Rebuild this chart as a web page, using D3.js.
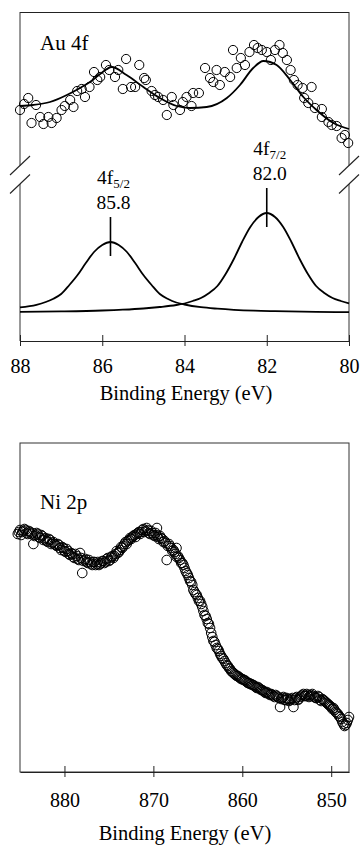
<!DOCTYPE html>
<html>
<head>
<meta charset="utf-8">
<script src="https://cdn.jsdelivr.net/npm/d3@7"></script>
<style>
body { margin: 0; background: #fff; }
text { font-family: "Liberation Serif", "Times New Roman", serif; fill: #000; }
</style>
</head>
<body>
<div id="chart"></div>
<script>
'use strict';

// ---- Au 4f (binding energy eV, intensity a.u.) ----
var auTicks = [88, 86, 84, 82, 80];

var auPoints = [
	[88.00,203],[87.90,209],[87.80,215],[87.61,208],[87.72,190],[87.51,196],[87.43,189],[87.31,196],
	[87.23,190],[87.11,195],[86.99,203],[86.91,207],[86.78,213],[86.70,206],[86.61,222],[86.50,224],
	[86.42,216],[86.31,226],[86.20,241],[86.12,233],[86.05,236],[85.91,248],[85.83,243],[85.69,236],
	[85.61,243],[85.42,254],[85.50,224],[85.30,226],[85.20,226],[85.10,248],[84.98,235],[84.94,233],
	[84.80,222],[84.72,218],[84.64,216],[84.52,213],[84.43,198],[84.31,216],[84.27,208],[84.11,203],
	[84.04,211],[83.95,216],[83.83,207],[83.79,220],[83.65,220],[83.50,245],[83.38,235],[83.30,231],
	[83.22,243],[83.14,228],[83.02,241],[82.89,236],[82.82,263],[82.73,245],[82.63,255],[82.53,248],
	[82.42,261],[82.31,268],[82.22,265],[82.12,263],[82.00,261],[81.90,253],[81.80,263],[81.69,268],
	[81.61,260],[81.51,253],[81.42,243],[81.34,233],[81.25,228],[81.13,225],[81.09,215],[80.91,226],
	[80.99,210],[80.83,205],[80.66,204],[80.66,196],[80.50,191],[80.42,188],[80.30,187],[80.18,175],
	[80.10,178],[80.02,170]
];

// fitted envelope
var auEnvelope = [
	[88.00,207],[87.68,208],[87.27,211],[86.86,218],[86.54,225],[86.30,231],[86.05,239],[85.77,246],
	[85.41,238],[85.00,226],[84.60,215],[84.19,207],[83.87,205],[83.46,206],[82.97,215],[82.65,228],
	[82.33,245],[82.08,252],[81.76,248],[81.43,233],[81.11,216],[80.79,203],[80.38,190],[80.00,184]
];

// fitted components
var auPeak52 = [
	[88.0,5.7],[87.6,8.2],[87.2,14],[87.0,19],[86.8,28],[86.6,38],[86.4,50],[86.2,61],[86.0,68],
	[85.8,71],[85.6,68],[85.4,61],[85.2,50],[85.0,38],[84.8,28],[84.6,19],[84.4,14],[84.2,10.5],
	[84.0,8.5],[83.6,5.8],[83.2,4.3],[82.8,3.2],[82.3,2.3],[81.8,1.8],[80.8,1.1],[80.0,0.8]
];
var auPeak72 = [
	[88.0,1.1],[87.0,1.6],[86.0,2.5],[85.5,3.3],[85.0,4.5],[84.6,6],[84.2,8],[84.0,9.5],[83.8,12],
	[83.6,15],[83.4,20],[83.2,27],[83.0,39],[82.8,54],[82.6,71],[82.4,86],[82.2,96],[82.0,100],
	[81.8,96],[81.6,86],[81.4,71],[81.2,54],[81.0,39],[80.8,27],[80.6,20],[80.4,15],[80.2,12],[80.0,9.5]
];

var auLabels = [
	{ name: "4f", sub: "5/2", be: 85.8, peak: 71 },
	{ name: "4f", sub: "7/2", be: 82.0, peak: 100 }
];

// ---- Ni 2p ----
var niTicks = [880, 870, 860, 850];

var niPoints = [
	[885.25,238],[885.0,242],[884.75,240],[884.5,243],[884.25,239],[884.0,241],[883.75,238],[883.5,228],
	[883.25,237],[883.0,238],[882.75,234],[882.5,236],[882.25,233],[882.0,231],[881.75,233],[881.5,228],
	[881.25,230],[881.0,227],[880.75,228],[880.5,224],[880.25,225],[880.0,221],[879.75,223],[879.5,218],
	[879.25,219],[879.0,215],[878.75,218],[878.5,213],[878.25,219],[878.0,199],[877.75,212],[877.5,210],
	[877.25,212],[877.0,208],[876.75,210],[876.5,207],[876.25,210],[876.0,208],[875.75,211],[875.5,209],
	[875.25,213],[875.0,211],[874.75,215],[874.5,214],[874.25,218],[874.0,219],[873.75,222],[873.5,224],
	[873.25,228],[873.0,228],[872.75,232],[872.5,233],[872.25,236],[872.0,235],[871.75,239],[871.5,238],
	[871.25,242],[871.0,240],[870.75,244],[870.5,239],[870.25,241],[870.0,237],[869.75,239],[869.6,244],
	[869.5,235],[869.25,236],[869.0,233],[868.75,231],[868.5,212],[868.25,228],[868.0,224],[867.75,222],
	[867.5,218],[867.4,224],[867.25,216],[867.0,212],[866.75,209],[866.5,204],[866.25,199],[866.0,194],
	[865.75,190],[865.5,182],[865.25,178],[865.0,174],[864.75,171],[864.5,165],[864.25,157],[864.0,153],
	[863.75,148],[863.5,139],[863.25,131],[863.0,127],[862.75,123],[862.5,118],[862.25,114],[862.0,111],
	[861.75,107],[861.5,104],[861.25,101],[861.0,99],[860.75,97],[860.5,96],[860.25,94],[860.0,93],
	[859.75,92],[859.5,90],[859.25,89],[859.0,88],[858.75,87],[858.5,85],[858.25,85],[858.0,83],
	[857.75,82],[857.5,80],[857.25,80],[857.0,78],[856.75,78],[856.5,76],[856.25,77],[856.0,75],
	[855.75,65],[855.5,74],[855.25,72],[855.0,74],[854.75,71],[854.5,73],[854.25,65],[854.0,74],
	[853.75,72],[853.5,75],[853.25,77],[853.0,76],[852.75,78],[852.5,75],[852.25,77],[852.0,76],
	[851.75,74],[851.5,76],[851.25,72],[851.0,73],[850.75,71],[850.5,69],[850.25,67],[850.0,65],
	[849.75,64],[849.5,60],[849.25,58],[849.0,55],[848.75,50],[848.5,46],[848.25,49],[848.0,55]
];

// second sweep, interleaved energies
var niPointsB = [
	[885.125,240],[884.875,237],[884.625,241],[884.375,242],[884.125,238],[883.875,240],[883.625,239],[883.375,236],
	[883.125,239],[882.875,235],[882.625,237],[882.375,232],[882.125,234],[881.875,230],[881.625,232],[881.375,229],
	[881.125,228],[880.875,226],[880.625,227],[880.375,222],[880.125,224],[879.875,220],[879.625,221],[879.375,217],
	[879.125,218],[878.875,214],[878.625,216],[878.375,212],[878.125,214],[877.875,211],[877.625,213],[877.375,209],
	[877.125,210],[876.875,207],[876.625,210],[876.375,208],[876.125,207],[875.875,209],[875.625,211],[875.375,210],
	[875.125,214],[874.875,212],[874.625,216],[874.375,216],[874.125,221],[873.875,220],[873.625,225],[873.375,226],
	[873.125,230],[872.875,231],[872.625,234],[872.375,235],[872.125,237],[871.875,238],[871.625,240],[871.375,240],
	[871.125,243],[870.875,241],[870.625,242],[870.375,238],[870.125,239],[869.875,236],[869.625,237],[869.375,233],
	[869.125,234],[868.875,230],[868.625,229],[868.375,226],[868.125,226],[867.875,221],[867.625,220],[867.375,215],
	[867.125,214],[866.875,209],[866.625,207],[866.375,201],[866.125,197],[865.875,191],[865.625,187],[865.375,180],
	[865.125,177],[864.875,171],[864.625,168],[864.375,161],[864.125,156],[863.875,149],[863.625,144],[863.375,135],
	[863.125,130],[862.875,124],[862.625,121],[862.375,116],[862.125,113],[861.875,109],[861.625,106],[861.375,103],
	[861.125,100],[860.875,98],[860.625,96],[860.375,95],[860.125,93],[859.875,92],[859.625,91],[859.375,89],
	[859.125,88],[858.875,87],[858.625,86],[858.375,84],[858.125,84],[857.875,82],[857.625,81],[857.375,79],
	[857.125,79],[856.875,77],[856.625,77],[856.375,75],[856.125,76],[855.875,74],[855.625,73],[855.375,75],
	[855.125,72],[854.875,73],[854.625,72],[854.375,74],[854.125,72],[853.875,75],[853.625,73],[853.375,76],
	[853.125,78],[852.875,76],[852.625,77],[852.375,76],[852.125,78],[851.875,75],[851.625,74],[851.375,75],
	[851.125,71],[850.875,72],[850.625,70],[850.375,68],[850.125,66],[849.875,63],[849.625,62],[849.375,59],
	[849.125,56],[848.875,53],[848.625,48],[848.375,47],[848.125,52]
];

var W = 362, H = 846;

var svg = d3.select("#chart").//
append("svg").//
attr("width", W).//
attr("height", H);

var serif = '"Liberation Serif", "Times New Roman", serif';

// ================= Au 4f panel =================
var xAu = d3.scaleLinear().domain([88, 80]).range([20, 349]), //
yAu = d3.scaleLinear().domain([-28, 301]).range([341, 12]);

var gAu = svg.append("g");

// frame: top line + side lines with axis break
var brk1 = 165.5, brk2 = 184;
gAu.append("line").attr("x1", xAu(88)).attr("x2", xAu(80)).attr("y1", 12.5).attr("y2", 12.5).//
attr("stroke", "#222");
[xAu(88), xAu(80)].forEach(function(x) {
	gAu.append("line").attr("x1", x).attr("x2", x).attr("y1", 12).attr("y2", brk1).attr("stroke", "#333");
	gAu.append("line").attr("x1", x).attr("x2", x).attr("y1", brk2).attr("y2", 341).attr("stroke", "#333");
	[brk1, brk2].forEach(function(y) {
		gAu.append("line").attr("x1", x - 10).attr("y1", y + 9.5).//
		attr("x2", x + 10).attr("y2", y - 9.5).//
		attr("stroke", "#222").attr("stroke-width", 1.1);
	});
});

var axAu = gAu.append("g").//
attr("transform", "translate(0,341)").//
attr("color", "#222").//
call(d3.axisBottom(xAu).tickValues(auTicks).tickSize(5).tickSizeOuter(0));
axAu.selectAll(".tick line").attr("y1", -6).attr("y2", 5);
axAu.selectAll(".tick text").attr("y", 32).attr("dy", 0).//
attr("font-size", 20).attr("font-family", serif).attr("fill", "#000");

gAu.append("text").attr("x", 186).attr("y", 400).attr("text-anchor", "middle").//
attr("font-size", 20.5).text("Binding Energy (eV)");

gAu.append("text").attr("x", 40).attr("y", 50).attr("font-size", 21).text("Au 4f");

var lineAu = d3.line().//
x(function(d) { return xAu(d[0]); }).//
y(function(d) { return yAu(d[1]); }).//
curve(d3.curveMonotoneX);

[auEnvelope, auPeak52, auPeak72].forEach(function(s) {
	gAu.append("path").datum(s.slice().reverse()).//
	attr("d", lineAu).//
	attr("fill", "none").//
	attr("stroke", "#000").//
	attr("stroke-width", 1.8);
});

gAu.selectAll("circle.au").data(auPoints).enter().append("circle").//
attr("class", "au").//
attr("cx", function(d) { return xAu(d[0]); }).//
attr("cy", function(d) { return yAu(d[1]); }).//
attr("r", 4.6).//
attr("fill", "none").//
attr("stroke", "#000").//
attr("stroke-width", 1);

// peak markers + labels
auLabels.forEach(function(p) {
	var x = xAu(p.be), yp = yAu(p.peak);
	gAu.append("line").attr("x1", x).attr("x2", x).//
	attr("y1", yp - 25).attr("y2", yp + 14).//
	attr("stroke", "#000").attr("stroke-width", 1.6);
	gAu.append("text").attr("x", x + 3).attr("y", yp - 33).//
	attr("text-anchor", "middle").attr("font-size", 19.5).//
	text(p.be.toFixed(1));
	var t = gAu.append("text").attr("x", x + 3).attr("y", yp - 58).//
	attr("text-anchor", "middle").attr("font-size", 19.5);
	t.append("tspan").text(p.name);
	t.append("tspan").attr("font-size", 13).attr("dy", 4).text(p.sub);
});

// ================= Ni 2p panel =================
var xNi = d3.scaleLinear().domain([885, 848]).range([20, 349]), //
yNi = d3.scaleLinear().domain([0, 329]).range([772, 443]);

var gNi = svg.append("g");

gNi.append("rect").attr("x", 20).attr("y", 443).attr("width", 329).attr("height", 329).//
attr("fill", "none").attr("stroke", "#333");

var axNi = gNi.append("g").//
attr("transform", "translate(0,772)").//
attr("color", "#222").//
call(d3.axisBottom(xNi).tickValues(niTicks).tickSize(5).tickSizeOuter(0));
axNi.selectAll(".tick line").attr("y1", -6).attr("y2", 5);
axNi.selectAll(".tick text").attr("y", 35).attr("dy", 0).//
attr("font-size", 20).attr("font-family", serif).attr("fill", "#000");

gNi.append("text").attr("x", 185).attr("y", 840).attr("text-anchor", "middle").//
attr("font-size", 20.5).text("Binding Energy (eV)");

gNi.append("text").attr("x", 40).attr("y", 509).attr("font-size", 21).text("Ni 2p");

gNi.selectAll("circle.ni").data(niPoints.concat(niPointsB)).enter().append("circle").//
attr("class", "ni").//
attr("cx", function(d) { return xNi(d[0]); }).//
attr("cy", function(d) { return yNi(d[1]); }).//
attr("r", 4.8).//
attr("fill", "none").//
attr("stroke", "#000").//
attr("stroke-width", 1);
</script>
</body>
</html>
